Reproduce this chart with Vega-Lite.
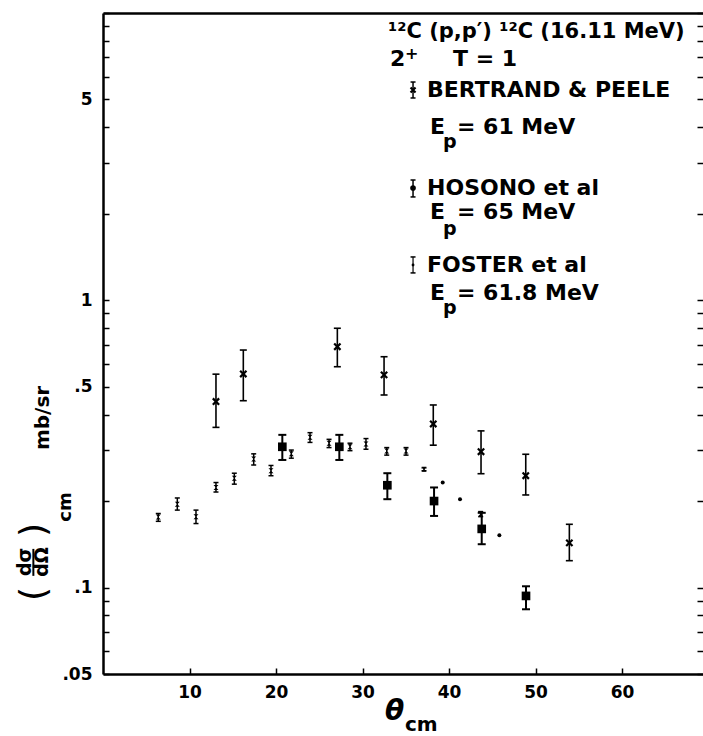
{
  "$schema": "https://vega.github.io/schema/vega-lite/v6.json",
  "width": 600,
  "height": 661,
  "autosize": {"type": "none"},
  "padding": {"left": 103, "top": 13, "right": 0, "bottom": 62},
  "background": "white",
  "config": {
    "view": {"stroke": null},
    "axis": {"grid": false, "domainColor": "black", "domainWidth": 2.5, "tickColor": "black", "tickWidth": 1.5, "labelColor": "black", "labelFont": "DejaVu Sans", "labelFontWeight": "bold", "labelFontSize": 17},
    "text": {"font": "DejaVu Sans", "color": "black"},
    "point": {"opacity": 1},
    "tick": {"opacity": 1}
  },
  "datasets": {
    "pts": [
      {"set": "Bertrand & Peele", "theta": 6.39, "y": 0.176, "lo": 0.170, "hi": 0.181},
      {"set": "Bertrand & Peele", "theta": 8.59, "y": 0.195, "lo": 0.186, "hi": 0.205},
      {"set": "Bertrand & Peele", "theta": 10.75, "y": 0.1765, "lo": 0.167, "hi": 0.186},
      {"set": "Bertrand & Peele", "theta": 13.06, "y": 0.223, "lo": 0.215, "hi": 0.232},
      {"set": "Bertrand & Peele", "theta": 15.18, "y": 0.240, "lo": 0.229, "hi": 0.250},
      {"set": "Bertrand & Peele", "theta": 17.42, "y": 0.280, "lo": 0.267, "hi": 0.292},
      {"set": "Bertrand & Peele", "theta": 19.42, "y": 0.255, "lo": 0.245, "hi": 0.266},
      {"set": "Bertrand & Peele", "theta": 21.77, "y": 0.292, "lo": 0.282, "hi": 0.301},
      {"set": "Bertrand & Peele", "theta": 23.93, "y": 0.3335, "lo": 0.320, "hi": 0.346},
      {"set": "Bertrand & Peele", "theta": 26.13, "y": 0.318, "lo": 0.307, "hi": 0.328},
      {"set": "Bertrand & Peele", "theta": 28.55, "y": 0.309, "lo": 0.2995, "hi": 0.318},
      {"set": "Bertrand & Peele", "theta": 30.40, "y": 0.316, "lo": 0.303, "hi": 0.330},
      {"set": "Bertrand & Peele", "theta": 32.80, "y": 0.299, "lo": 0.289, "hi": 0.307},
      {"set": "Bertrand & Peele", "theta": 35.03, "y": 0.299, "lo": 0.289, "hi": 0.307},
      {"set": "Bertrand & Peele", "theta": 37.11, "y": 0.258, "lo": 0.255, "hi": 0.261},
      {"set": "Bertrand & Peele", "theta": 43.66, "y": 0.1805, "lo": 0.1765, "hi": 0.1838},
      {"set": "Foster et al", "theta": 13.06, "y": 0.444, "lo": 0.361, "hi": 0.553},
      {"set": "Foster et al", "theta": 16.22, "y": 0.554, "lo": 0.447, "hi": 0.671},
      {"set": "Foster et al", "theta": 27.09, "y": 0.689, "lo": 0.587, "hi": 0.799},
      {"set": "Foster et al", "theta": 32.49, "y": 0.550, "lo": 0.468, "hi": 0.636},
      {"set": "Foster et al", "theta": 38.18, "y": 0.371, "lo": 0.313, "hi": 0.432},
      {"set": "Foster et al", "theta": 43.70, "y": 0.297, "lo": 0.249, "hi": 0.351},
      {"set": "Foster et al", "theta": 48.87, "y": 0.245, "lo": 0.210, "hi": 0.291},
      {"set": "Foster et al", "theta": 53.91, "y": 0.143, "lo": 0.124, "hi": 0.166},
      {"set": "Hosono et al", "theta": 20.73, "y": 0.309, "lo": 0.278, "hi": 0.340},
      {"set": "Hosono et al", "theta": 27.32, "y": 0.309, "lo": 0.278, "hi": 0.340},
      {"set": "Hosono et al", "theta": 32.87, "y": 0.227, "lo": 0.203, "hi": 0.250},
      {"set": "Hosono et al", "theta": 38.27, "y": 0.200, "lo": 0.1775, "hi": 0.223},
      {"set": "Hosono et al", "theta": 43.78, "y": 0.160, "lo": 0.1415, "hi": 0.182},
      {"set": "Hosono et al", "theta": 48.90, "y": 0.0935, "lo": 0.084, "hi": 0.101},
      {"set": "other", "theta": 39.27, "y": 0.232},
      {"set": "other", "theta": 41.27, "y": 0.203},
      {"set": "other", "theta": 45.82, "y": 0.152}
    ],
    "keys": [
      {"set": "Bertrand & Peele", "theta": 35.84, "y": 5.395, "lo": 5.06, "hi": 5.751},
      {"set": "Hosono et al", "theta": 35.84, "y": 2.459, "lo": 2.289, "hi": 2.622},
      {"set": "Foster et al", "theta": 35.84, "y": 1.327, "lo": 1.245, "hi": 1.415}
    ],
    "head": [
      {"label": "¹²C (p,p′) ¹²C (16.11 MeV)", "theta": 32.95, "y": 8.59}
    ],
    "main": [
      {"label": "2", "theta": 33.18, "y": 6.918},
      {"label": "T = 1", "theta": 40.46, "y": 6.918},
      {"label": "BERTRAND & PEELE", "theta": 37.46, "y": 5.395},
      {"label": "E", "theta": 37.8, "y": 3.996},
      {"label": "= 61 MeV", "theta": 40.92, "y": 3.996},
      {"label": "HOSONO  et al", "theta": 37.46, "y": 2.459},
      {"label": "E", "theta": 37.8, "y": 2.021},
      {"label": "= 65 MeV", "theta": 40.92, "y": 2.021},
      {"label": "FOSTER et al", "theta": 37.46, "y": 1.327},
      {"label": "E", "theta": 37.8, "y": 1.064},
      {"label": "= 61.8 MeV", "theta": 40.92, "y": 1.064}
    ],
    "sup": [
      {"label": "+", "theta": 34.9, "y": 7.2}
    ],
    "sub": [
      {"label": "p", "theta": 39.31, "y": 3.556},
      {"label": "p", "theta": 39.31, "y": 1.771},
      {"label": "p", "theta": 39.31, "y": 0.94}
    ]
  },
  "layer": [
    {
      "encoding": {
        "x": {"field": "theta", "type": "quantitative", "scale": {"domain": [0, 69.36], "nice": false, "zero": false}, "title": null,
              "axis": {"orient": "bottom", "values": [10, 20, 30, 40, 50, 60], "tickSize": -6, "labelPadding": 16, "labelOverlap": false, "labelFlush": false}},
        "y": {"field": "y", "type": "quantitative", "scale": {"type": "log", "domain": [0.05, 10]}, "title": null,
              "axis": {"orient": "left", "values": [0.05, 0.06, 0.07, 0.08, 0.09, 0.1, 0.2, 0.3, 0.4, 0.5, 0.6, 0.7, 0.8, 0.9, 1, 2, 3, 4, 5, 6, 7, 8, 9, 10], "tickSize": -6, "labelPadding": 17, "labelOverlap": false, "labelFlush": false,
                       "labelExpr": "datum.value == 0.05 ? '.05' : datum.value == 0.1 ? '.1' : datum.value == 0.5 ? '.5' : datum.value == 1 ? '1' : datum.value == 5 ? '5' : ''"}}
      },
      "layer": [
        {"data": {"name": "pts"}, "transform": [{"filter": "datum.set === 'Bertrand & Peele'"}],
         "mark": {"type": "rule", "color": "black", "strokeWidth": 1.5},
         "encoding": {"y": {"field": "lo", "type": "quantitative", "scale": {"type": "log", "domain": [0.05, 10]}, "title": null}, "y2": {"field": "hi"}}},
        {"data": {"name": "pts"}, "transform": [{"filter": "datum.set === 'Bertrand & Peele'"}, {"fold": ["lo", "hi"], "as": ["end", "v"]}],
         "mark": {"type": "tick", "orient": "horizontal", "size": 5, "thickness": 1.5, "color": "black", "opacity": 1},
         "encoding": {"y": {"field": "v", "type": "quantitative", "scale": {"type": "log", "domain": [0.05, 10]}, "title": null}}},
        {"data": {"name": "pts"}, "transform": [{"filter": "datum.set === 'Bertrand & Peele'"}],
         "mark": {"type": "point", "shape": "M-1,-1L1,-1L-1,1L1,1Z", "filled": true, "color": "black", "opacity": 1, "size": 25}},

        {"data": {"name": "pts"}, "transform": [{"filter": "datum.set === 'Foster et al'"}],
         "mark": {"type": "rule", "color": "black", "strokeWidth": 1.6},
         "encoding": {"y": {"field": "lo", "type": "quantitative", "scale": {"type": "log", "domain": [0.05, 10]}, "title": null}, "y2": {"field": "hi"}}},
        {"data": {"name": "pts"}, "transform": [{"filter": "datum.set === 'Foster et al'"}, {"fold": ["lo", "hi"], "as": ["end", "v"]}],
         "mark": {"type": "tick", "orient": "horizontal", "size": 7, "thickness": 1.6, "color": "black", "opacity": 1},
         "encoding": {"y": {"field": "v", "type": "quantitative", "scale": {"type": "log", "domain": [0.05, 10]}, "title": null}}},
        {"data": {"name": "pts"}, "transform": [{"filter": "datum.set === 'Foster et al'"}],
         "mark": {"type": "point", "shape": "M-1,-1L1,1M1,-1L-1,1", "filled": false, "color": "black", "opacity": 1, "strokeWidth": 2.2, "size": 40}},

        {"data": {"name": "pts"}, "transform": [{"filter": "datum.set === 'Hosono et al'"}],
         "mark": {"type": "rule", "color": "black", "strokeWidth": 2},
         "encoding": {"y": {"field": "lo", "type": "quantitative", "scale": {"type": "log", "domain": [0.05, 10]}, "title": null}, "y2": {"field": "hi"}}},
        {"data": {"name": "pts"}, "transform": [{"filter": "datum.set === 'Hosono et al'"}, {"fold": ["lo", "hi"], "as": ["end", "v"]}],
         "mark": {"type": "tick", "orient": "horizontal", "size": 8, "thickness": 2, "color": "black", "opacity": 1},
         "encoding": {"y": {"field": "v", "type": "quantitative", "scale": {"type": "log", "domain": [0.05, 10]}, "title": null}}},
        {"data": {"name": "pts"}, "transform": [{"filter": "datum.set === 'Hosono et al'"}],
         "mark": {"type": "point", "shape": "square", "filled": true, "color": "black", "opacity": 1, "size": 75}},

        {"data": {"name": "pts"}, "transform": [{"filter": "datum.set === 'other'"}],
         "mark": {"type": "point", "shape": "circle", "filled": true, "color": "black", "opacity": 1, "size": 16}},

        {"data": {"name": "keys"}, "transform": [{"filter": "datum.set === 'Bertrand & Peele'"}],
         "mark": {"type": "rule", "color": "black", "strokeWidth": 1.5},
         "encoding": {"y": {"field": "lo", "type": "quantitative", "scale": {"type": "log", "domain": [0.05, 10]}, "title": null}, "y2": {"field": "hi"}}},
        {"data": {"name": "keys"}, "transform": [{"filter": "datum.set === 'Bertrand & Peele'"}, {"fold": ["lo", "hi"], "as": ["end", "v"]}],
         "mark": {"type": "tick", "orient": "horizontal", "size": 5, "thickness": 1.5, "color": "black", "opacity": 1},
         "encoding": {"y": {"field": "v", "type": "quantitative", "scale": {"type": "log", "domain": [0.05, 10]}, "title": null}}},
        {"data": {"name": "keys"}, "transform": [{"filter": "datum.set === 'Bertrand & Peele'"}],
         "mark": {"type": "point", "shape": "M-1,-1L1,1M1,-1L-1,1", "filled": false, "color": "black", "opacity": 1, "strokeWidth": 2.2, "size": 25}},

        {"data": {"name": "keys"}, "transform": [{"filter": "datum.set === 'Hosono et al'"}],
         "mark": {"type": "rule", "color": "black", "strokeWidth": 1.5},
         "encoding": {"y": {"field": "lo", "type": "quantitative", "scale": {"type": "log", "domain": [0.05, 10]}, "title": null}, "y2": {"field": "hi"}}},
        {"data": {"name": "keys"}, "transform": [{"filter": "datum.set === 'Hosono et al'"}, {"fold": ["lo", "hi"], "as": ["end", "v"]}],
         "mark": {"type": "tick", "orient": "horizontal", "size": 5, "thickness": 1.5, "color": "black", "opacity": 1},
         "encoding": {"y": {"field": "v", "type": "quantitative", "scale": {"type": "log", "domain": [0.05, 10]}, "title": null}}},
        {"data": {"name": "keys"}, "transform": [{"filter": "datum.set === 'Hosono et al'"}],
         "mark": {"type": "point", "shape": "circle", "filled": true, "color": "black", "opacity": 1, "size": 32}},

        {"data": {"name": "keys"}, "transform": [{"filter": "datum.set === 'Foster et al'"}],
         "mark": {"type": "rule", "color": "black", "strokeWidth": 1.2},
         "encoding": {"y": {"field": "lo", "type": "quantitative", "scale": {"type": "log", "domain": [0.05, 10]}, "title": null}, "y2": {"field": "hi"}}},
        {"data": {"name": "keys"}, "transform": [{"filter": "datum.set === 'Foster et al'"}, {"fold": ["lo", "hi"], "as": ["end", "v"]}],
         "mark": {"type": "tick", "orient": "horizontal", "size": 5, "thickness": 1.5, "color": "black", "opacity": 1},
         "encoding": {"y": {"field": "v", "type": "quantitative", "scale": {"type": "log", "domain": [0.05, 10]}, "title": null}}},
        {"data": {"name": "keys"}, "transform": [{"filter": "datum.set === 'Foster et al'"}],
         "mark": {"type": "point", "shape": "circle", "filled": true, "color": "black", "opacity": 1, "size": 8}},

        {"data": {"name": "head"},
         "mark": {"type": "text", "align": "left", "baseline": "middle", "fontSize": 21, "fontWeight": "bold", "font": "DejaVu Sans"},
         "encoding": {"text": {"field": "label"}}},
        {"data": {"name": "main"},
         "mark": {"type": "text", "align": "left", "baseline": "middle", "fontSize": 22, "fontWeight": "bold", "font": "DejaVu Sans"},
         "encoding": {"text": {"field": "label"}}},
        {"data": {"name": "sup"},
         "mark": {"type": "text", "align": "left", "baseline": "middle", "fontSize": 16, "fontWeight": "bold", "font": "DejaVu Sans"},
         "encoding": {"text": {"field": "label"}}},
        {"data": {"name": "sub"},
         "mark": {"type": "text", "align": "left", "baseline": "middle", "fontSize": 19, "fontWeight": "bold", "font": "DejaVu Sans"},
         "encoding": {"text": {"field": "label"}}},

        {"data": {"values": [{"label": "mb/sr", "theta": -6.94, "y": 0.3894}]},
         "mark": {"type": "text", "angle": 270, "align": "center", "baseline": "middle", "fontSize": 20, "fontWeight": "bold"},
         "encoding": {"text": {"field": "label"}}},
        {"data": {"values": [{"label": "dσ", "theta": -9.02, "y": 0.1228}, {"label": "dΩ", "theta": -7.1, "y": 0.1228}]},
         "mark": {"type": "text", "angle": 270, "align": "center", "baseline": "middle", "fontSize": 19, "fontWeight": "bold"},
         "encoding": {"text": {"field": "label"}}},
        {"data": {"values": [{"label": "cm", "theta": -4.28, "y": 0.1908}]},
         "mark": {"type": "text", "angle": 270, "align": "center", "baseline": "middle", "fontSize": 18, "fontWeight": "bold"},
         "encoding": {"text": {"field": "label"}}},
        {"data": {"values": [{"label": "(", "theta": -8.0, "y": 0.095}, {"label": ")", "theta": -8.0, "y": 0.1586}]},
         "mark": {"type": "text", "angle": 270, "align": "center", "baseline": "middle", "fontSize": 36},
         "encoding": {"text": {"field": "label"}}},
        {"data": {"values": [{"theta": -8.05, "lo": 0.1098, "hi": 0.1363}]},
         "mark": {"type": "rule", "color": "black", "strokeWidth": 2},
         "encoding": {"y": {"field": "lo", "type": "quantitative", "scale": {"type": "log", "domain": [0.05, 10]}, "title": null}, "y2": {"field": "hi"}}},

        {"data": {"values": [{"label": "θ", "theta": 33.7, "y": 0.0369}]},
         "mark": {"type": "text", "align": "center", "baseline": "middle", "fontSize": 28, "fontStyle": "italic", "fontWeight": "bold"},
         "encoding": {"text": {"field": "label"}}},
        {"data": {"values": [{"label": "cm", "theta": 34.9, "y": 0.0332}]},
         "mark": {"type": "text", "align": "left", "baseline": "middle", "fontSize": 20, "fontWeight": "bold"},
         "encoding": {"text": {"field": "label"}}}
      ]
    },
    {
      "data": {"name": "pts"},
      "mark": {"type": "point", "opacity": 0},
      "encoding": {
        "x": {"field": "theta", "type": "quantitative", "scale": {"domain": [0, 69.36], "nice": false, "zero": false}, "title": null,
              "axis": {"orient": "top", "labels": false, "ticks": false, "domain": true}},
        "y": {"field": "y", "type": "quantitative", "scale": {"type": "log", "domain": [0.05, 10]}, "title": null,
              "axis": {"orient": "right", "labels": false, "domain": false, "tickSize": -6, "values": [0.05, 0.06, 0.07, 0.08, 0.09, 0.1, 0.2, 0.3, 0.4, 0.5, 0.6, 0.7, 0.8, 0.9, 1, 2, 3, 4, 5, 6, 7, 8, 9, 10]}}
      }
    }
  ],
  "resolve": {"axis": {"x": "independent", "y": "independent"}}
}
